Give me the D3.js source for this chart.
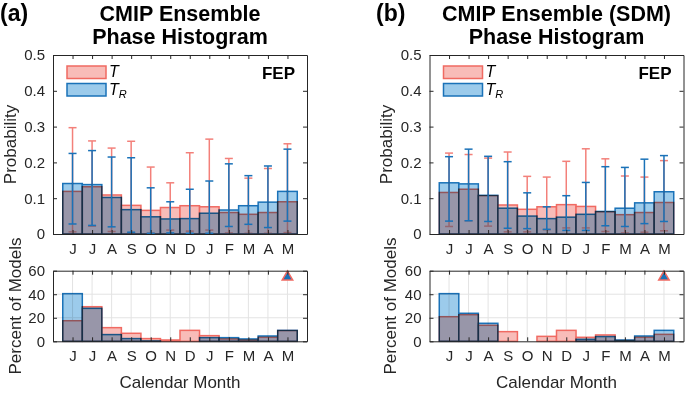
<!DOCTYPE html>
<html>
<head>
<meta charset="utf-8">
<script src="https://cdn.jsdelivr.net/npm/d3@7"></script>
<style>
  body { margin: 0; background: #fff; }
  text { font-family: "Liberation Sans", Arial, sans-serif; fill: #262626; }
  .axis path, .axis line { stroke: #262626; }
  .axis text { font-size: 15px; fill: #262626; }
</style>
</head>
<body>
<div id="chart"></div>
<script>
let width = 685, height = 398;

let months = ["J", "J", "A", "S", "O", "N", "D", "J", "F", "M", "A", "M"];
let probTicks = [0, 0.1, 0.2, 0.3, 0.4, 0.5];
let pctTicks = [0, 20, 40, 60];

// panel (a) CMIP ensemble
let probT_a  = [0.119, 0.132, 0.109, 0.080, 0.066, 0.074, 0.079, 0.076, 0.060, 0.055, 0.060, 0.090];
let probTR_a = [0.141, 0.138, 0.102, 0.068, 0.048, 0.042, 0.043, 0.058, 0.067, 0.079, 0.089, 0.119];
let errT_lo_a  = [0.006, 0.022, 0.007, 0.003, 0.002, 0.011, 0.008, 0.011, 0.003, 0.002, 0.002, 0.004];
let errT_hi_a  = [0.297, 0.260, 0.240, 0.259, 0.187, 0.143, 0.227, 0.265, 0.211, 0.156, 0.183, 0.252];
let errTR_lo_a = [0.028, 0.024, 0.020, 0.005, 0.002, 0.003, 0.002, 0.002, 0.021, 0.027, 0.018, 0.036];
let errTR_hi_a = [0.225, 0.233, 0.215, 0.213, 0.129, 0.090, 0.125, 0.148, 0.196, 0.163, 0.190, 0.237];
let pctT_a  = [17.5, 29.4, 11.6, 6.8, 2.3, 1.1, 9.3, 4.8, 2.0, 1.1, 3.4, 9.1];
let pctTR_a = [40.5, 28.0, 5.7, 2.3, 0.3, 0, 0, 3.1, 3.1, 2.0, 4.5, 9.3];

// panel (b) CMIP ensemble (SDM)
let probT_b  = [0.116, 0.125, 0.107, 0.081, 0.069, 0.076, 0.082, 0.077, 0.062, 0.054, 0.060, 0.088];
let probTR_b = [0.143, 0.140, 0.108, 0.072, 0.050, 0.043, 0.047, 0.055, 0.063, 0.072, 0.087, 0.118];
let errT_lo_b  = [0.021, 0.037, 0.022, 0.006, 0.006, 0.012, 0.017, 0.017, 0.007, 0.003, 0.005, 0.009];
let errT_hi_b  = [0.226, 0.222, 0.212, 0.229, 0.161, 0.159, 0.203, 0.238, 0.210, 0.162, 0.159, 0.205];
let errTR_lo_b = [0.036, 0.037, 0.035, 0.016, 0.015, 0.013, 0.010, 0.010, 0.023, 0.021, 0.029, 0.035];
let errTR_hi_b = [0.216, 0.237, 0.217, 0.202, 0.115, 0.076, 0.107, 0.144, 0.188, 0.186, 0.209, 0.219];
let pctT_b  = [20.9, 22.6, 13.6, 8.2, 0, 4.2, 9.3, 3.4, 5.4, 0.6, 3.4, 5.9];
let pctTR_b = [40.5, 23.8, 15.3, 0, 0, 0, 0, 1.7, 4.0, 1.1, 4.5, 9.3];

let markerMonth = 12, markerPct = 55;

const red = "#f06a62", redFill = "#f8bcb8", blue = "#1a72b8", blueFill = "#9ccbeb";

const svg = d3.select("#chart").append("svg")
  .attr("width", width).attr("height", height)
  .attr("viewBox", [0, 0, width, height]);

function panel(opt) {
  let x = d3.scaleLinear().domain([0, 13]).range([opt.left, opt.left + 254]);
  let yP = d3.scaleLinear().domain([0, 0.5]).range([234, 55]);
  let yC = d3.scaleLinear().domain([0, 60]).range([341.3, 270.7]);
  let x0 = x.range()[0], x1 = x.range()[1];
  let idx = d3.range(1, 13);

  // titles
  svg.append("text").text(opt.tag).attr("x", opt.tagX).attr("y", 21)
    .attr("font-size", 23).attr("font-weight", "bold").style("fill", "#000");
  svg.append("text").attr("text-anchor", "middle").attr("x", (x0 + x1) / 2).attr("y", 20.5)
    .attr("font-size", 21.5).attr("font-weight", "bold").style("fill", "#000").text(opt.title1);
  svg.append("text").attr("text-anchor", "middle").attr("x", (x0 + x1) / 2).attr("y", 43.5)
    .attr("font-size", 21.5).attr("font-weight", "bold").style("fill", "#000").text("Phase Histogram");

  // ---------- top: probability histogram ----------
  let g = svg.append("g");
  let bars = (sel, vals, y, fill, stroke, blend) => {
    let b = sel.append("g");
    if (blend) b.style("mix-blend-mode", "multiply");
    b.selectAll("rect").data(vals).join("rect")
      .attr("x", (d, i) => x(idx[i] - 0.5))
      .attr("width", x(1) - x(0))
      .attr("y", d => y(d))
      .attr("height", d => y(0) - y(d))
      .attr("fill", fill)
      .attr("stroke", stroke)
      .attr("stroke-width", 1.5);
  };
  let errbars = (sel, lo, hi, color) => {
    let e = sel.append("g").attr("stroke", color).attr("stroke-width", 1.5);
    idx.forEach((m, i) => {
      e.append("line").attr("x1", x(m)).attr("x2", x(m)).attr("y1", yP(lo[i])).attr("y2", yP(hi[i]));
      e.append("line").attr("x1", x(m) - 4).attr("x2", x(m) + 4).attr("y1", yP(lo[i])).attr("y2", yP(lo[i]));
      e.append("line").attr("x1", x(m) - 4).attr("x2", x(m) + 4).attr("y1", yP(hi[i])).attr("y2", yP(hi[i]));
    });
  };

  bars(g, opt.probT, yP, redFill, red, false);
  errbars(g, opt.errTlo, opt.errThi, "#f3807a");
  bars(g, opt.probTR, yP, blueFill, blue, true);
  errbars(g, opt.errTRlo, opt.errTRhi, blue);

  svg.append("g").attr("class", "axis").attr("transform", `translate(0,234)`)
    .call(d3.axisBottom(x).tickValues(idx).tickSize(-4).tickSizeOuter(0).tickPadding(9)
      .tickFormat((d, i) => months[i]));
  svg.append("g").attr("class", "axis").attr("transform", `translate(0,55)`)
    .call(d3.axisTop(x).tickValues(idx).tickSize(-4).tickSizeOuter(0).tickFormat(""));
  svg.append("g").attr("class", "axis").attr("transform", `translate(${x0},0)`)
    .call(d3.axisLeft(yP).tickValues(probTicks).tickSize(-4).tickSizeOuter(0).tickPadding(8)
      .tickFormat(d => d === 0 ? "0" : d3.format(".1f")(d)));
  svg.append("g").attr("class", "axis").attr("transform", `translate(${x1},0)`)
    .call(d3.axisRight(yP).tickValues(probTicks).tickSize(-4).tickSizeOuter(0).tickFormat(""));

  svg.append("text").text("Probability").attr("text-anchor", "middle")
    .attr("transform", `translate(${opt.probLabelX},144.5) rotate(-90)`)
    .attr("font-size", 17);

  // legend
  let lg = svg.append("g");
  [["T", redFill, red, 66], ["T", blueFill, blue, 83.5]].forEach((l, i) => {
    lg.append("rect").attr("x", x0 + 14).attr("y", l[3]).attr("width", 39).attr("height", 12.5)
      .attr("fill", l[1]).attr("stroke", l[2]).attr("stroke-width", 1.5);
    let t = lg.append("text").attr("x", x0 + 56).attr("y", l[3] + 11)
      .attr("font-family", "Liberation Serif, serif").attr("font-style", "italic")
      .attr("font-size", 16).style("fill", "#000").text("T");
    if (i === 1) t.append("tspan").attr("dy", 3.5).attr("font-size", 11).text("R");
  });
  svg.append("text").text("FEP").attr("x", x1 - 12).attr("y", 79)
    .attr("text-anchor", "end").attr("font-size", 17).attr("font-weight", "bold").style("fill", "#000");

  // ---------- bottom: percent of models ----------
  let gb = svg.append("g");
  gb.append("g").selectAll("line").data(idx).join("line")
    .attr("x1", d => x(d)).attr("x2", d => x(d)).attr("y1", yC(0)).attr("y2", yC(60))
    .attr("stroke", "#e3e3e3");
  gb.append("g").selectAll("line").data([20, 40]).join("line")
    .attr("x1", x0).attr("x2", x1).attr("y1", d => yC(d)).attr("y2", d => yC(d))
    .attr("stroke", "#e3e3e3");

  bars(gb, opt.pctT, yC, redFill, red, false);
  bars(gb, opt.pctTR, yC, blueFill, blue, true);

  let tri = d3.symbol().type(d3.symbolTriangle).size(48);
  gb.append("path").attr("d", tri)
    .attr("transform", `translate(${x(markerMonth)},${yC(markerPct) + 0.5})`)
    .attr("fill", blue).attr("stroke", red).attr("stroke-width", 1.5);

  svg.append("g").attr("class", "axis").attr("transform", `translate(0,${yC(0)})`)
    .call(d3.axisBottom(x).tickValues(idx).tickSize(-4).tickSizeOuter(0).tickPadding(9)
      .tickFormat((d, i) => months[i]));
  svg.append("g").attr("class", "axis").attr("transform", `translate(0,${yC(60)})`)
    .call(d3.axisTop(x).tickValues(idx).tickSize(-4).tickSizeOuter(0).tickFormat(""));
  svg.append("g").attr("class", "axis").attr("transform", `translate(${x0},0)`)
    .call(d3.axisLeft(yC).tickValues(pctTicks).tickSize(-4).tickSizeOuter(0).tickPadding(8));
  svg.append("g").attr("class", "axis").attr("transform", `translate(${x1},0)`)
    .call(d3.axisRight(yC).tickValues(pctTicks).tickSize(-4).tickSizeOuter(0).tickFormat(""));

  svg.append("text").text("Percent of Models").attr("text-anchor", "middle")
    .attr("transform", `translate(${opt.pctLabelX},306) rotate(-90)`)
    .attr("font-size", 17);
  svg.append("text").text("Calendar Month").attr("text-anchor", "middle")
    .attr("x", (x0 + x1) / 2).attr("y", 388).attr("font-size", 17);
}

panel({
  left: 53, tag: "(a)", tagX: 0, title1: "CMIP Ensemble", probLabelX: 16, pctLabelX: 21,
  probT: probT_a, probTR: probTR_a, errTlo: errT_lo_a, errThi: errT_hi_a,
  errTRlo: errTR_lo_a, errTRhi: errTR_hi_a, pctT: pctT_a, pctTR: pctTR_a
});
panel({
  left: 429.5, tag: "(b)", tagX: 376, title1: "CMIP Ensemble (SDM)", probLabelX: 392, pctLabelX: 396,
  probT: probT_b, probTR: probTR_b, errTlo: errT_lo_b, errThi: errT_hi_b,
  errTRlo: errTR_lo_b, errTRhi: errTR_hi_b, pctT: pctT_b, pctTR: pctTR_b
});
</script>
</body>
</html>
